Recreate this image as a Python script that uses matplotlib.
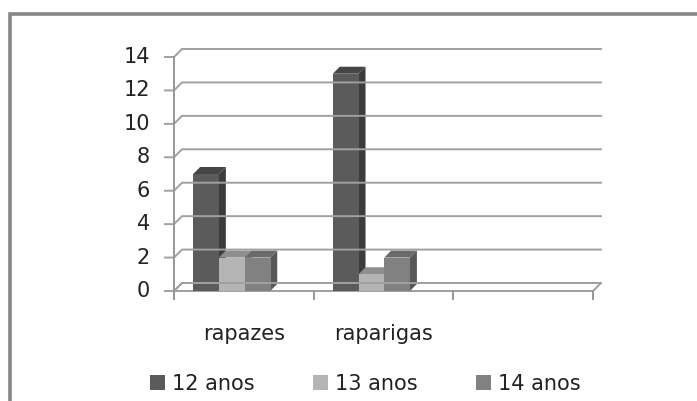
import matplotlib
matplotlib.use("Agg")
import matplotlib.pyplot as plt
from matplotlib.patches import Polygon, Patch, Rectangle

# ---------------------------------------------------------------------------
# Data
# ---------------------------------------------------------------------------

categories = ["rapazes", "raparigas", ""]
series_names = ["12 anos", "13 anos", "14 anos"]
values_12 = [7, 13, 0]
values_13 = [2, 1, 0]
values_14 = [2, 2, 0]
y_ticks = [0, 2, 4, 6, 8, 10, 12, 14]

# front / top / side shades for each series
front_colors = ["#5b5b5b", "#b4b4b4", "#818181"]
top_colors = ["#464646", "#8e8e8e", "#6a6a6a"]
side_colors = ["#3c3c3c", "#8a8a8a", "#585858"]

# ---------------------------------------------------------------------------
# Geometry of the pseudo-3D frame (pixels)
# ---------------------------------------------------------------------------

W, H = 697, 401
X0_PX, Y0_PX = 174, 291          # front-left corner of the plot floor
CAT_PX = 139.67                  # width of one category
UNIT_PX = 16.714                 # pixels per value unit
DEPTH_PX = 8                     # back wall offset

DX = DEPTH_PX / CAT_PX
DY = DEPTH_PX / UNIT_PX
BAR_DX = 7 / CAT_PX
BAR_DY = 7 / UNIT_PX
BAR_W = 0.184
GROUP_START = 0.137

GRID = "#a0a0a0"
AXIS = "#979797"
TEXT = "#222222"

fig = plt.figure(figsize=(W / 100, H / 100), dpi=100)
ax = fig.add_axes([0, 0, 1, 1])
ax.set_xlim(-X0_PX / CAT_PX, (W - X0_PX) / CAT_PX)
ax.set_ylim((Y0_PX - H) / UNIT_PX, Y0_PX / UNIT_PX)
ax.axis("off")

n_cat = len(categories)
ymax = y_ticks[-1]

# outer chart border (top and left visible)
px = lambda x: (x - X0_PX) / CAT_PX
py = lambda y: (Y0_PX - y) / UNIT_PX
ax.plot([px(9.5), px(9.5), px(W + 5)], [py(H + 5), py(13.5), py(13.5)],
        color="#878787", lw=2.6, solid_joinstyle="miter", clip_on=False)

# back-wall gridlines with side-wall diagonals and short left ticks
for v in y_ticks:
    ax.plot([-9 / CAT_PX, 0, DX, n_cat + DX], [v, v, v + DY, v + DY],
            color=GRID, lw=1.4, solid_joinstyle="miter")
    ax.text(-24 / CAT_PX, v, str(v), ha="right", va="center",
            fontsize=15, color=TEXT)

# floor
floor = Polygon([(0, 0), (n_cat, 0), (n_cat + DX, DY), (DX, DY)],
                closed=True, facecolor="white", edgecolor=GRID, lw=1.4)
ax.add_patch(floor)

# vertical value axis
ax.plot([0, 0], [-DY, ymax], color=AXIS, lw=1.4)

# category ticks and labels
for i in range(n_cat + 1):
    ax.plot([i, i], [0, -DY], color=AXIS, lw=1.4)
for i, cat in enumerate(categories):
    ax.text(i + 0.5, -2.6, cat, ha="center", va="center",
            fontsize=15, color=TEXT)

# bars: side, top, then front face
series = [values_12, values_13, values_14]
for i in range(n_cat):
    for s, vals in enumerate(series):
        v = vals[i]
        if v <= 0:
            continue
        x0 = i + GROUP_START + s * BAR_W
        x1 = x0 + BAR_W
        side = Polygon([(x1, 0), (x1 + BAR_DX, BAR_DY),
                        (x1 + BAR_DX, v + BAR_DY), (x1, v)],
                       closed=True, facecolor=side_colors[s], edgecolor="none")
        top = Polygon([(x0, v), (x1, v), (x1 + BAR_DX, v + BAR_DY),
                       (x0 + BAR_DX, v + BAR_DY)],
                      closed=True, facecolor=top_colors[s], edgecolor="none")
        front = Rectangle((x0, 0), BAR_W, v, facecolor=front_colors[s],
                          edgecolor="none")
        ax.add_patch(side)
        ax.add_patch(top)
        ax.add_patch(front)

# legend
handles = [Patch(facecolor=c, edgecolor="none") for c in front_colors]
leg = fig.legend(handles, series_names, ncol=3, loc="center left",
                 bbox_to_anchor=(150 / W, 1 - 383.5 / H), frameon=False,
                 fontsize=15, handlelength=0.72, handleheight=0.72,
                 handletextpad=0.34, columnspacing=2.8, borderpad=0,
                 borderaxespad=0)
for t in leg.get_texts():
    t.set_color(TEXT)

fig.savefig("out.png", dpi=100)
